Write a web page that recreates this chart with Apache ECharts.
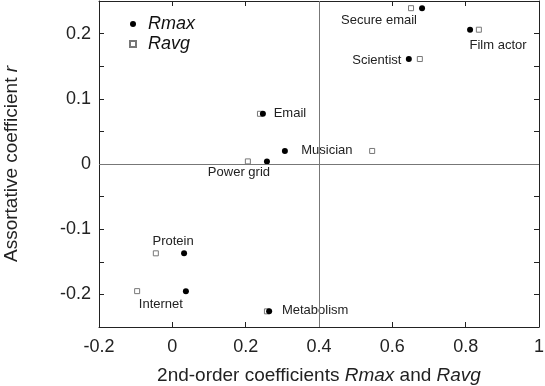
<!DOCTYPE html>
<html>
<head>
<meta charset="utf-8">
<script src="https://cdn.jsdelivr.net/npm/echarts@6/dist/echarts.min.js"></script>
<style>
  html, body { margin: 0; padding: 0; background: #fff; }
  #chart { width: 545px; height: 386px; }
</style>
</head>
<body>
<div id="chart"></div>
<script>
// networks and their coefficients
var networks = ['Secure email', 'Film actor', 'Scientist', 'Email', 'Musician', 'Power grid', 'Protein', 'Internet', 'Metabolism'];
var assortR = [0.239, 0.206, 0.161, 0.077, 0.020, 0.004, -0.137, -0.195, -0.226];
var rMax = [0.681, 0.812, 0.645, 0.247, 0.307, 0.258, 0.032, 0.037, 0.264];
var rAvg = [0.651, 0.836, 0.675, 0.239, 0.545, 0.206, -0.045, -0.096, 0.258];
var xTicks = [-0.2, 0, 0.2, 0.4, 0.6, 0.8, 1];
var yTicks = [-0.2, -0.1, 0, 0.1, 0.2];

// where each name sits next to its Rmax dot (pixel offsets)
var labelOffset = {
  'Secure email': [-43, 12],
  'Film actor': [28, 16],
  'Scientist': [-32, 1],
  'Email': [27, 0],
  'Musician': [42, -1],
  'Power grid': [-28, 11],
  'Protein': [-11, -12],
  'Internet': [-25, 13],
  'Metabolism': [46, -1]
};

var font = 'Liberation Sans, Arial, sans-serif';
var axisColor = '#222';

function pts(xs) {
  return networks.map(function (n, i) {
    return { name: n, value: [xs[i], assortR[i]] };
  });
}

var maxData = pts(rMax).map(function (d) {
  d.label = { show: true, position: 'inside', offset: labelOffset[d.name], formatter: d.name };
  return d;
});

function fmt(v) {
  return String(Math.round(v * 10) / 10);
}

var nameStyle = {
  fontSize: 19, color: '#222', fontFamily: font,
  rich: { i: { fontSize: 19, fontStyle: 'italic', color: '#222', fontFamily: font } }
};

var chart = echarts.init(document.getElementById('chart'));
var option = {
  animation: false,
  textStyle: { fontFamily: font },
  grid: { left: 99, right: 6, top: 1, bottom: 59, containLabel: false, outerBoundsMode: 'none' },
  legend: {
    data: ['Rmax', 'Ravg'],
    orient: 'vertical',
    left: 124,
    top: 10,
    itemGap: 2,
    itemWidth: 6,
    itemHeight: 6,
    textStyle: { fontSize: 18, fontStyle: 'italic', color: '#111', lineHeight: 18, fontFamily: font, padding: [0, 0, 0, 7] }
  },
  xAxis: [{
    type: 'value', min: -0.2, max: 1, interval: 0.2,
    name: '2nd-order coefficients {i|Rmax} and {i|Ravg}',
    nameLocation: 'middle', nameGap: 39,
    nameTextStyle: nameStyle,
    axisLine: { onZero: false, lineStyle: { color: axisColor } },
    axisTick: { inside: true, length: 5, lineStyle: { color: axisColor } },
    axisLabel: { fontSize: 18, color: '#222', margin: 11, formatter: function (v) {
      return xTicks.indexOf(Math.round(v * 10) / 10) >= 0 ? fmt(v) : '';
    } },
    splitLine: { show: false }
  }, {
    type: 'value', position: 'top', min: -0.2, max: 1, interval: 0.2,
    axisLine: { onZero: false, lineStyle: { color: axisColor } },
    axisTick: { inside: true, length: 5, lineStyle: { color: axisColor } },
    axisLabel: { show: false },
    splitLine: { show: false }
  }],
  yAxis: [{
    type: 'value', min: -0.25, max: 0.25, interval: 0.05,
    name: 'Assortative coefficient {i|r}',
    nameLocation: 'middle', nameGap: 78,
    nameTextStyle: nameStyle,
    axisLine: { onZero: false, lineStyle: { color: axisColor } },
    axisTick: { inside: true, length: 5, lineStyle: { color: axisColor } },
    axisLabel: { fontSize: 18, color: '#222', margin: 8, formatter: function (v) {
      var r = Math.round(v * 100) / 100;
      return yTicks.indexOf(r) >= 0 ? fmt(r) : '';
    } },
    splitLine: { show: false }
  }, {
    type: 'value', position: 'right', min: -0.25, max: 0.25, interval: 0.05,
    axisLine: { onZero: false, lineStyle: { color: axisColor } },
    axisTick: { inside: true, length: 5, lineStyle: { color: axisColor } },
    axisLabel: { show: false },
    splitLine: { show: false }
  }],
  series: [{
    name: 'Ravg',
    type: 'scatter',
    symbol: 'rect',
    symbolSize: 5,
    itemStyle: { color: '#fff', borderColor: '#777', borderWidth: 1, opacity: 1 },
    data: pts(rAvg),
    markLine: {
      silent: true,
      symbol: 'none',
      label: { show: false },
      lineStyle: { color: '#777', width: 1, type: 'solid' },
      data: [{ xAxis: 0.4 }, { yAxis: 0 }]
    }
  }, {
    name: 'Rmax',
    type: 'scatter',
    symbol: 'circle',
    symbolSize: 6,
    itemStyle: { color: '#000', opacity: 1 },
    label: { color: '#222', fontSize: 13, fontFamily: font },
    data: maxData
  }]
};
chart.setOption(option);
window.addEventListener('resize', function () { chart.resize(); });
</script>
</body>
</html>
